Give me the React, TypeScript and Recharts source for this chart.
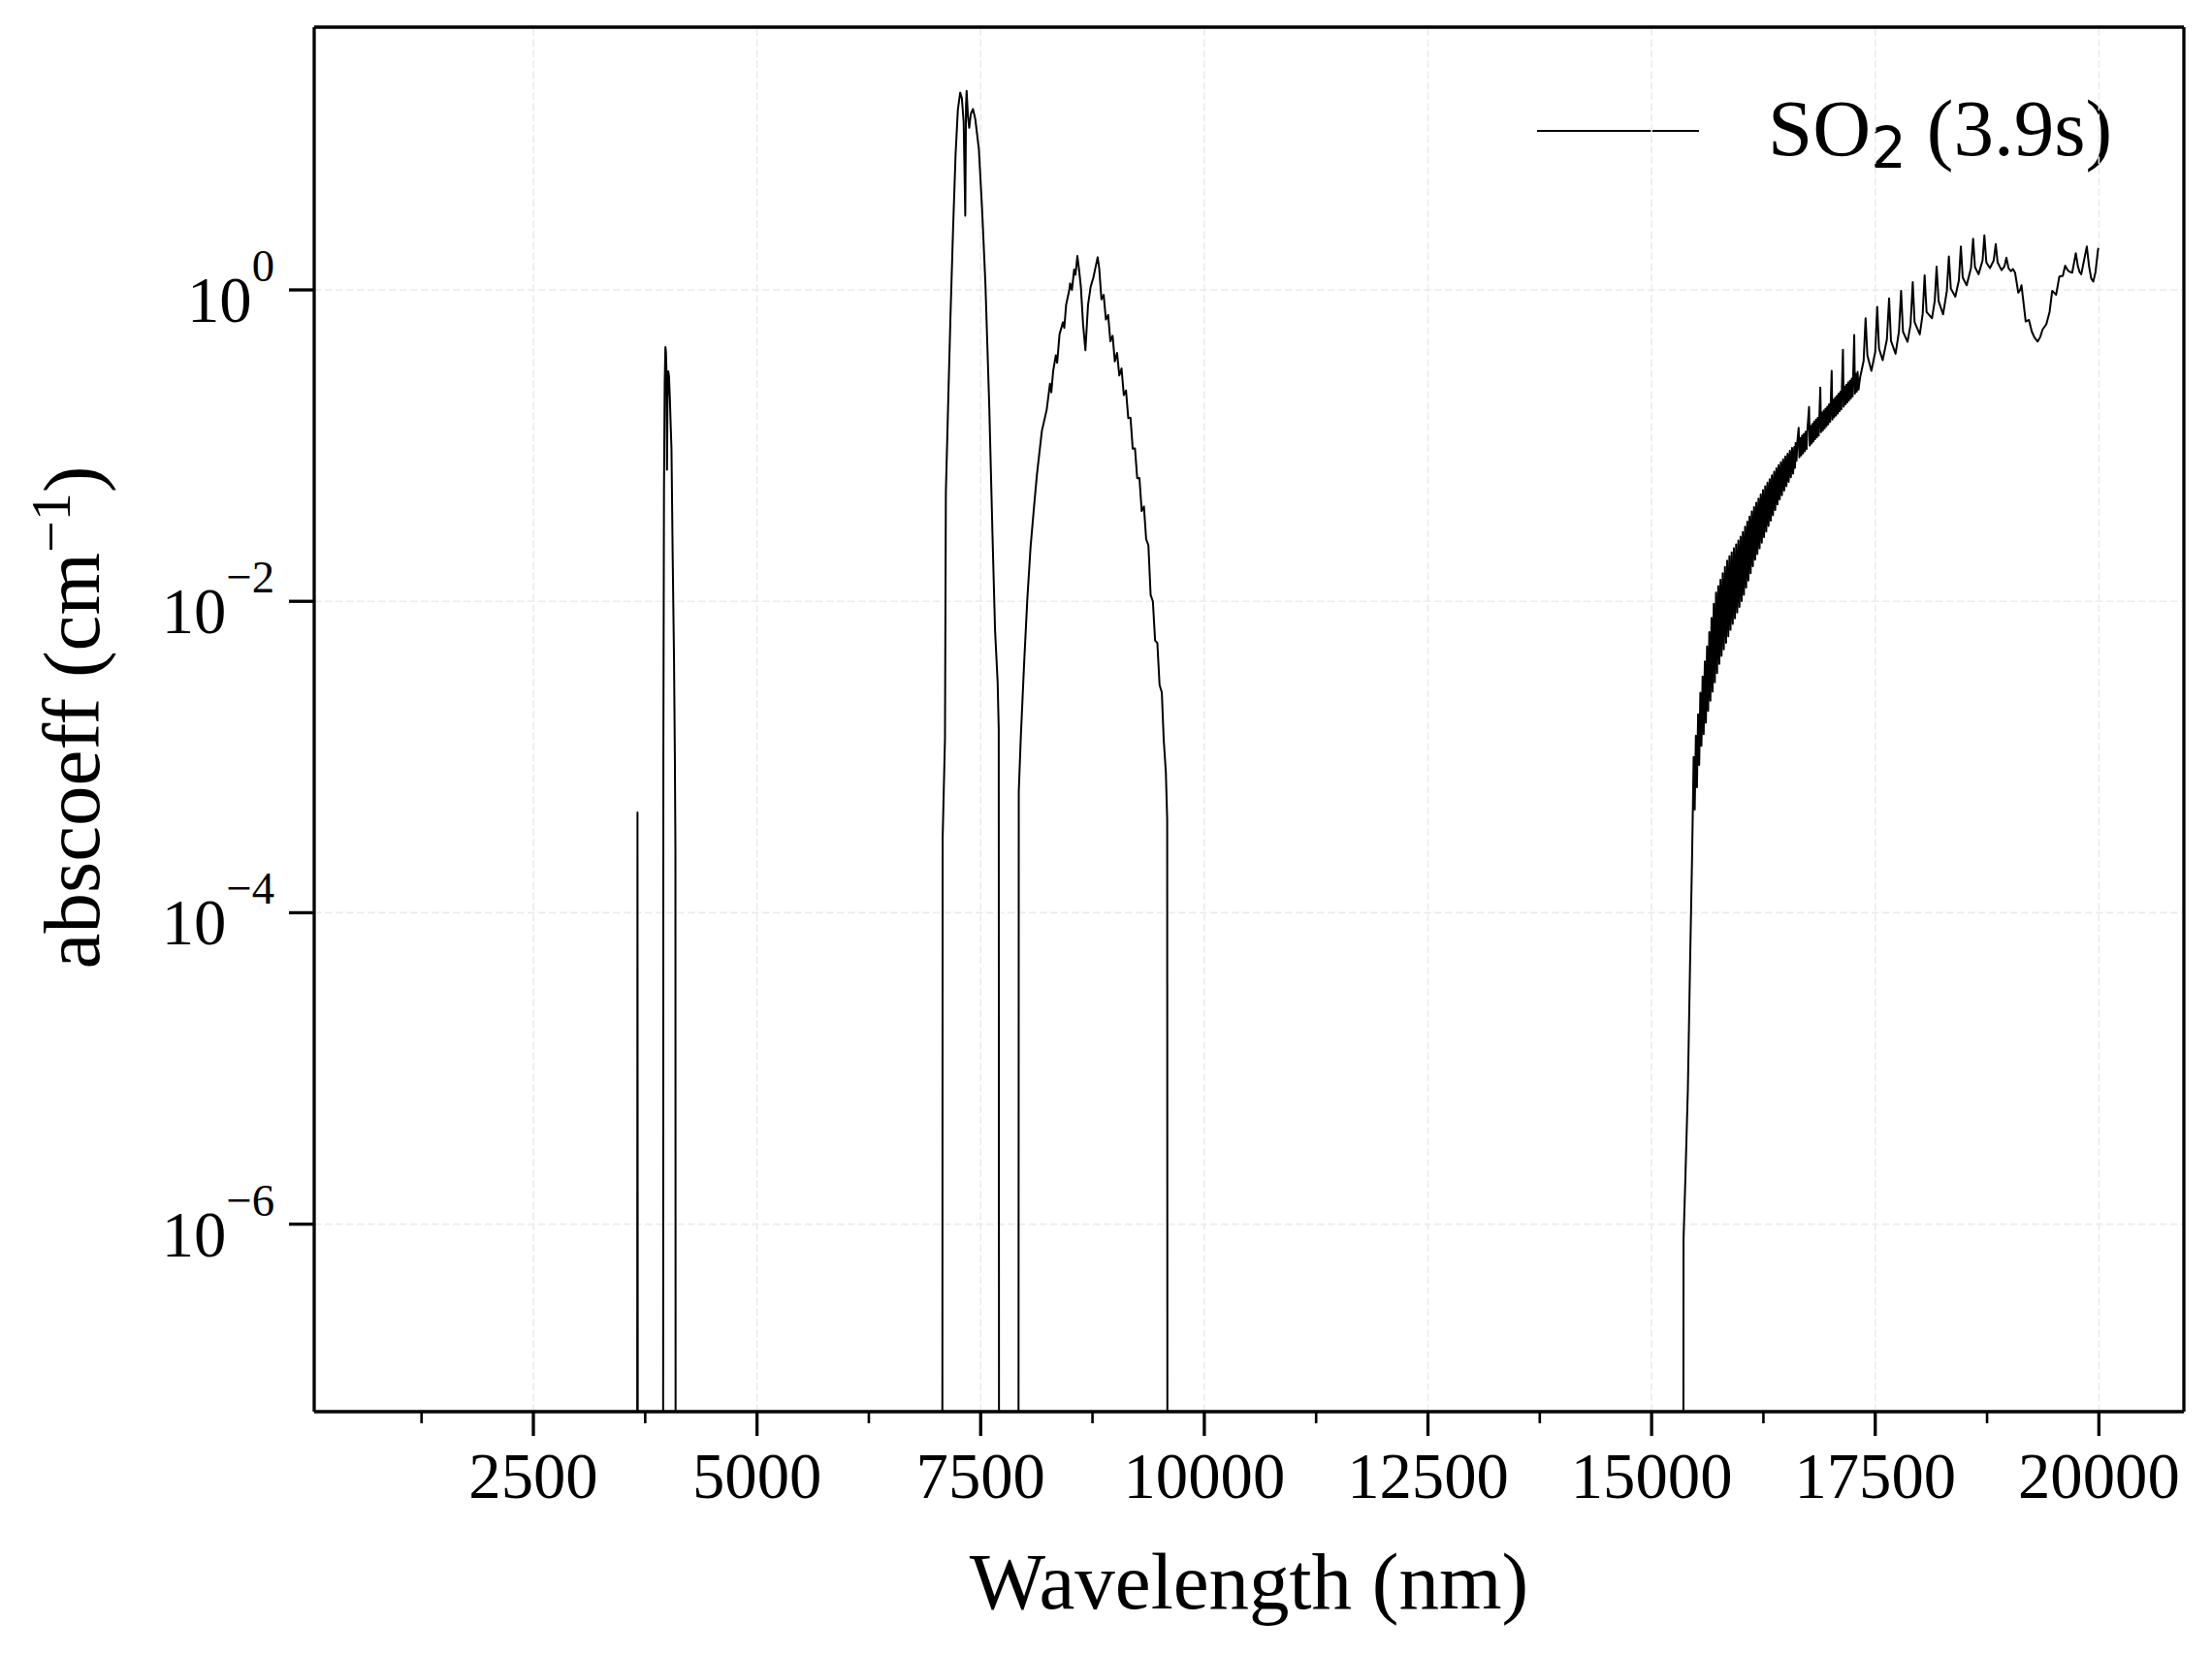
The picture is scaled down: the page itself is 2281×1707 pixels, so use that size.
import React from 'react';
import { LineChart, Line, XAxis, YAxis, ReferenceLine, Customized } from 'recharts';

// ---------- data (wavelength nm, abscoeff cm^-1); ZERO = no absorption ----------
const ZERO = 1e-12;

const leadIn: number[][] = [[1000, ZERO], [3657, ZERO]];

const line3664: number[][] = [[3664, 4.4e-4], [3671, ZERO]];

const band4000: number[][] = [
  [3948, ZERO], [3953, 1e-3], [3960, 0.05], [3968, 0.25], [3976, 0.43], [3982, 0.4],
  [3988, 0.3], [3994, 0.07], [4000, 0.2], [4008, 0.3], [4016, 0.28], [4026, 0.2],
  [4036, 0.13], [4044, 0.095], [4057, 0.02], [4072, 0.0044], [4082, 9.6e-4],
  [4088, 2.5e-4], [4092, ZERO],
];

const band7300: number[][] = [
  [7068, ZERO], [7075, 3e-4], [7101, 1.3e-3], [7111, 0.05], [7136, 0.18], [7162, 0.66],
  [7191, 2.4], [7220, 7.5], [7245, 14.3], [7271, 18.5], [7290, 17], [7310, 12],
  [7328, 3.0], [7336, 15], [7343, 19], [7358, 13], [7372, 11], [7390, 13.5],
  [7414, 14.5], [7440, 12.5], [7480, 8], [7516, 3.3], [7553, 1.1], [7596, 0.18],
  [7632, 0.027], [7661, 0.0065], [7690, 0.003], [7702, 1.5e-3], [7708, ZERO],
];

const band8700: number[][] = [
  [7920, ZERO], [7926, 6e-4], [7949, 1.35e-3], [7985, 3.9e-3], [8021, 0.0102],
  [8057, 0.022], [8094, 0.039], [8130, 0.066], [8184, 0.124], [8238, 0.17],
  [8275, 0.25], [8290, 0.22], [8310, 0.3], [8340, 0.38], [8355, 0.34], [8382, 0.52],
  [8420, 0.62], [8435, 0.57], [8455, 0.8], [8491, 1.0], [8500, 1.1], [8520, 1.0],
  [8545, 1.35], [8560, 1.25], [8581, 1.65], [8600, 1.35], [8620, 1.05], [8645, 0.6],
  [8671, 0.41], [8700, 0.8], [8730, 1.05], [8760, 1.2], [8790, 1.45], [8808, 1.62],
  [8825, 1.38], [8850, 0.87], [8875, 0.93], [8900, 0.645], [8925, 0.69], [8950, 0.468],
  [8975, 0.507], [9000, 0.347], [9025, 0.394], [9050, 0.282], [9075, 0.313],
  [9100, 0.211], [9125, 0.226], [9150, 0.15], [9175, 0.151], [9200, 0.0955],
  [9225, 0.096], [9250, 0.0617], [9275, 0.062], [9300, 0.038], [9325, 0.0407],
  [9350, 0.0251], [9375, 0.0229], [9400, 0.011], [9425, 0.01], [9450, 0.0056],
  [9475, 0.0054], [9500, 0.0029], [9525, 0.0026], [9546, 0.0013], [9570, 8e-4],
  [9585, 4e-4], [9590, ZERO],
];

const edge15400: number[][] = [
  [15350, ZERO], [15357, 8e-7], [15379, 2.1e-6], [15405, 7.2e-6], [15430, 4.7e-5],
  [15452, 2.2e-4], [15462, 5e-4],
];

const dense16000: number[][] = [
  [15470, 1.0e-3], [15482, 4.6e-4], [15495, 1.37e-3], [15507, 6.4e-4], [15520, 1.88e-3],
  [15532, 8.9e-4], [15545, 2.59e-3], [15557, 1.18e-3], [15570, 3.29e-3], [15582, 1.4e-3],
  [15595, 4.11e-3], [15607, 1.66e-3], [15620, 5.13e-3], [15632, 1.98e-3], [15645, 6.34e-3],
  [15657, 2.3e-3], [15670, 7.82e-3], [15682, 2.63e-3], [15695, 9.66e-3], [15707, 3.02e-3],
  [15720, 0.01138], [15732, 3.46e-3], [15745, 0.01252], [15757, 3.97e-3], [15770, 0.01377],
  [15782, 4.47e-3], [15795, 0.01514], [15807, 4.92e-3], [15820, 0.01663], [15832, 5.41e-3],
  [15845, 0.01828], [15857, 5.96e-3], [15870, 0.0195], [15882, 6.56e-3], [15895, 0.02065],
  [15907, 7.16e-3], [15920, 0.02188], [15932, 7.78e-3], [15945, 0.02317], [15957, 8.47e-3],
  [15970, 0.02455], [15982, 9.22e-3], [15995, 0.026], [16007, 0.01003], [16020, 0.0279],
  [16032, 0.01102], [16045, 0.03013], [16057, 0.01225], [16070, 0.0325], [16082, 0.01361],
  [16095, 0.035], [16107, 0.01514], [16120, 0.03776], [16132, 0.01683], [16145, 0.04036],
  [16157, 0.0185], [16170, 0.04295], [16182, 0.02014], [16195, 0.0457], [16207, 0.02188],
  [16220, 0.04864], [16232, 0.02377], [16245, 0.05188], [16257, 0.02582], [16270, 0.05483],
  [16282, 0.02805], [16295, 0.0578], [16307, 0.03048], [16320, 0.06095], [16332, 0.03296],
  [16345, 0.06442], [16357, 0.03573], [16370, 0.06792], [16382, 0.03864], [16395, 0.07161],
  [16407, 0.04188], [16420, 0.07499], [16432, 0.04508], [16445, 0.07816], [16457, 0.04808],
  [16470, 0.08166], [16482, 0.0514], [16495, 0.08511], [16507, 0.05483], [16520, 0.08872],
  [16532, 0.05861], [16545, 0.09268], [16557, 0.06266], [16570, 0.09661], [16582, 0.06607],
  [16595, 0.098], [16603, 0.072],
];

const noisy17000: number[][] = [
  [16610, 0.104], [16620, 0.08], [16630, 0.107], [16644, 0.13], [16652, 0.084],
  [16662, 0.112], [16672, 0.0865], [16682, 0.116], [16692, 0.089], [16702, 0.119],
  [16712, 0.092], [16722, 0.123], [16732, 0.095], [16742, 0.127], [16760, 0.177],
  [16768, 0.1], [16778, 0.134], [16788, 0.103], [16798, 0.138], [16808, 0.106],
  [16818, 0.143], [16828, 0.11], [16838, 0.147], [16848, 0.113], [16858, 0.151],
  [16868, 0.116], [16886, 0.236], [16894, 0.122], [16904, 0.163], [16914, 0.125],
  [16924, 0.168], [16934, 0.129], [16944, 0.173], [16954, 0.133], [16964, 0.178],
  [16974, 0.137], [16984, 0.184], [16996, 0.142], [17013, 0.302], [17021, 0.147],
  [17031, 0.197], [17041, 0.152], [17051, 0.203], [17061, 0.156], [17071, 0.209],
  [17081, 0.161], [17091, 0.216], [17101, 0.166], [17111, 0.222], [17121, 0.171],
  [17139, 0.412], [17147, 0.178], [17157, 0.239], [17167, 0.184], [17177, 0.246],
  [17187, 0.189], [17197, 0.254], [17207, 0.195], [17217, 0.261], [17227, 0.201],
  [17237, 0.269], [17247, 0.207], [17265, 0.513], [17273, 0.216], [17283, 0.289],
  [17293, 0.222], [17303, 0.298], [17313, 0.229], [17330, 0.272],
];

const lines18500: number[][] = [
  [17370, 0.35], [17392, 0.658], [17412, 0.38], [17457, 0.302], [17500, 0.4],
  [17522, 0.777], [17542, 0.42], [17583, 0.354], [17630, 0.48], [17655, 0.883],
  [17676, 0.47], [17727, 0.389], [17765, 0.54], [17789, 0.986], [17810, 0.54],
  [17861, 0.464], [17895, 0.6], [17919, 1.12], [17940, 0.62], [17998, 0.518],
  [18030, 0.7], [18052, 1.24], [18074, 0.72], [18135, 0.658], [18165, 0.85],
  [18186, 1.41], [18208, 0.85], [18258, 0.696], [18300, 0.98], [18323, 1.64],
  [18345, 1.02], [18395, 0.905], [18435, 1.15], [18457, 1.9], [18478, 1.2],
  [18522, 1.07], [18570, 1.38], [18594, 2.13], [18615, 1.4], [18655, 1.26],
  [18700, 1.55], [18720, 2.24], [18742, 1.5], [18782, 1.38], [18825, 1.55],
  [18847, 1.97], [18868, 1.5], [18912, 1.34], [18945, 1.42], [18966, 1.61],
  [18990, 1.38], [19016, 1.32], [19040, 1.36], [19063, 1.29], [19099, 0.96],
  [19120, 1.0], [19135, 1.07], [19155, 0.85], [19182, 0.627], [19218, 0.642],
  [19250, 0.54], [19280, 0.494], [19316, 0.466], [19345, 0.5], [19370, 0.556],
  [19413, 0.603], [19449, 0.723], [19478, 0.986], [19500, 0.96], [19522, 0.931],
  [19558, 1.22], [19597, 1.23], [19623, 1.43], [19650, 1.34], [19670, 1.31],
  [19702, 1.29], [19742, 1.72], [19765, 1.42], [19785, 1.3], [19803, 1.26],
  [19865, 1.9], [19890, 1.42], [19915, 1.18], [19937, 1.13], [19962, 1.3],
  [19991, 1.83], [20000, 1.85],
];

const xMajor = [2500, 5000, 7500, 10000, 12500, 15000, 17500, 20000];
const xMinor = [1250, 3750, 6250, 8750, 11250, 13750, 16250, 18750];
const yTicks = [1e-6, 1e-4, 1e-2, 1];
const xDomain: [number, number] = [50, 20950];
const yDomain: [number, number] = [6.25e-8, 48.7];

const seriesName = 'SO2 (3.9s)';
const xLabel = 'Wavelength (nm)';

const data = [
  ...leadIn, ...line3664, ...band4000, ...band7300, ...band8700,
  ...edge15400, ...dense16000, ...noisy17000, ...lines18500,
].map(([x, y]) => ({ x, y }));

const xTicks = [...xMajor, ...xMinor].sort((a, b) => a - b);

const SERIF = '"Liberation Serif", "Times New Roman", serif';
const SANS = '"DejaVu Sans", sans-serif';
const GRID = '#ebebeb';

const XTick = (props: any) => {
  const { x, y, payload } = props;
  const v = payload.value;
  const major = xMajor.includes(v);
  return (
    <g>
      <line x1={x} x2={x} y1={y} y2={y + (major ? 25 : 12)} stroke="#000" strokeWidth={major ? 3.3 : 2.6} />
      {major && (
        <text x={x} y={y + 89} textAnchor="middle" fontFamily={SERIF} fontSize={66.7} fill="#000">
          {v}
        </text>
      )}
    </g>
  );
};

const YTick = (props: any) => {
  const { x, y, payload } = props;
  const e = Math.round(Math.log10(payload.value));
  const exp = e < 0 ? '\u2212' + String(-e) : String(e);
  return (
    <g>
      <line x1={x - 26} x2={x} y1={y} y2={y} stroke="#000" strokeWidth={3.3} />
      <text x={x - 41} y={y + 33} textAnchor="end" fontFamily={SERIF} fontSize={66.7} fill="#000">
        10<tspan fontSize={46.7} dy={-42}>{exp}</tspan>
      </text>
    </g>
  );
};

const Decorations = () => (
  <g>
    <text x={1288} y={1659} textAnchor="middle" fontFamily={SERIF} fontSize={83} fill="#000">
      {xLabel}
    </text>
    <text transform="rotate(-90)" x={-740} y={102} textAnchor="middle" fontFamily={SERIF} fontSize={83} fill="#000">
      abscoeff (cm<tspan fontSize={58} dy={-30}>{'\u22121'}</tspan>
      <tspan dy={30}>)</tspan>
    </text>
    <line x1={1585} x2={1752} y1={135} y2={135} stroke="#000" strokeWidth={2} />
    <text x={1823} y={160} fontFamily={SERIF} fontSize={83} fill="#000" style={{ whiteSpace: 'pre' }}>
      SO<tspan fontFamily={SANS} fontSize={58} dy={12.6}>2</tspan>
      <tspan dy={-12.6}>{' (3.9s)'}</tspan>
    </text>
  </g>
);

export default function App() {
  return (
    <div style={{ position: 'absolute', left: 0, top: 0, background: '#fff' }}>
      <LineChart
        width={2281}
        height={1707}
        data={data}
        margin={{ top: 27, right: 28, bottom: 250, left: 323 }}
      >
        {xMajor.map((v) => (
          <ReferenceLine key={'gx' + v} x={v} stroke={GRID} strokeWidth={1.6} strokeDasharray="7.5 3.5" />
        ))}
        {yTicks.map((v) => (
          <ReferenceLine key={'gy' + v} y={v} stroke={GRID} strokeWidth={1.6} strokeDasharray="7.5 3.5" />
        ))}
        <XAxis
          dataKey="x"
          type="number"
          domain={xDomain}
          allowDataOverflow
          ticks={xTicks}
          interval={0}
          tick={XTick}
          tickLine={false}
          tickSize={0}
          tickMargin={0}
          height={1}
          axisLine={{ stroke: '#000', strokeWidth: 3.3 }}
        />
        <XAxis
          xAxisId="top"
          orientation="top"
          dataKey="x"
          type="number"
          domain={xDomain}
          allowDataOverflow
          ticks={xMajor}
          interval={0}
          tick={false}
          tickLine={false}
          height={1}
          axisLine={{ stroke: '#000', strokeWidth: 3.3 }}
        />
        <YAxis
          type="number"
          scale="log"
          domain={yDomain}
          allowDataOverflow
          ticks={yTicks}
          interval={0}
          tick={YTick}
          tickLine={false}
          tickSize={0}
          tickMargin={0}
          width={1}
          axisLine={{ stroke: '#000', strokeWidth: 3.3 }}
        />
        <YAxis
          yAxisId="right"
          orientation="right"
          type="number"
          scale="log"
          domain={yDomain}
          allowDataOverflow
          ticks={yTicks}
          interval={0}
          tick={false}
          tickLine={false}
          width={1}
          axisLine={{ stroke: '#000', strokeWidth: 3.3 }}
        />
        <Line
          dataKey="y"
          name={seriesName}
          type="linear"
          stroke="#000"
          strokeWidth={2}
          strokeLinejoin="round"
          dot={false}
          activeDot={false}
          isAnimationActive={false}
        />
        <Customized component={<Decorations />} />
      </LineChart>
    </div>
  );
}
